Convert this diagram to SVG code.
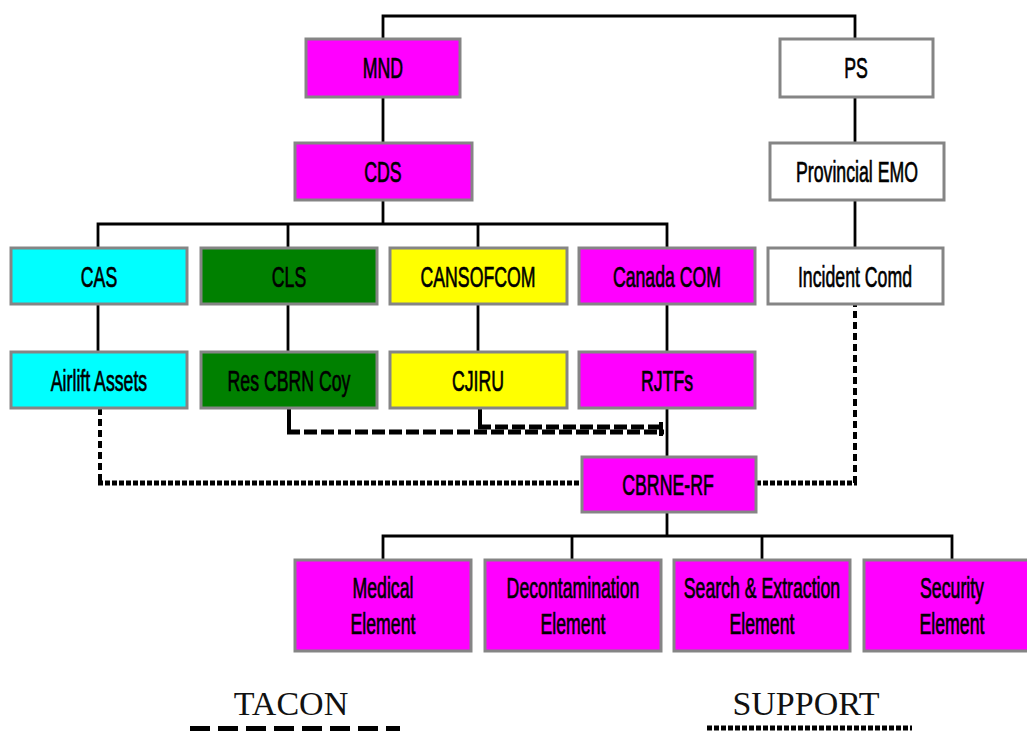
<svg xmlns="http://www.w3.org/2000/svg" width="1027" height="731" viewBox="0 0 1027 731">
<style>
.box{stroke:#858585;stroke-width:3}
.mag{fill:#ff00ff}.cy{fill:#00ffff}.gr{fill:#008000}.ye{fill:#ffff00}.wh{fill:#ffffff}
.t{font-family:"Liberation Sans",Arial,sans-serif;font-size:30px;fill:#000;stroke:#000;stroke-width:0.7;text-anchor:middle}
.lg{font-family:"Liberation Serif","Times New Roman",serif;font-size:34px;fill:#111;text-anchor:middle}
.solid{fill:none;stroke:#000;stroke-width:2.8}
.tacon{fill:none;stroke:#000;stroke-width:5;stroke-dasharray:13 4}
.tv{fill:none;stroke:#000;stroke-width:4}
.sup{fill:none;stroke:#000;stroke-width:5;stroke-dasharray:5 2}
.supv{fill:none;stroke:#000;stroke-width:4;stroke-dasharray:7 4}
</style>
<rect width="1027" height="731" fill="#ffffff"/>
<g id="connectors">
<path class="solid" d="M383,39 V16 H855 V39"/>
<path class="solid" d="M383,97 V143"/>
<path class="solid" d="M855,97 V143"/>
<path class="solid" d="M855,200 V248"/>
<path class="solid" d="M383,200 V224"/>
<path class="solid" d="M98,248 V224 H667 V248 M288,224 V248 M478,224 V248"/>
<path class="solid" d="M98,304 V352 M288,304 V352 M478,304 V352 M667,304 V352"/>
<path class="solid" d="M667,408 V457"/>
<path class="solid" d="M667,512 V536 M383,560 V536 H952 V560 M572,536 V560 M762,536 V560"/>
<path class="tv" d="M289,408 V434"/>
<path class="tacon" d="M287,432 H664"/>
<path class="tv" d="M480,408 V429"/>
<path class="tacon" d="M478,427 H664"/>
<path class="tv" d="M661,422 V436"/>
<path class="supv" d="M100,408 V483"/>
<path class="sup" d="M98,483 H582"/>
<path class="sup" d="M756,483 H857"/>
<path class="supv" d="M855,483 V304"/>
</g>
<g id="MND"><rect class="box mag" x="306" y="39" width="154" height="58"/><text class="t" transform="translate(383 78) scale(0.59 1)">MND</text></g>
<g id="PS"><rect class="box wh" x="780" y="39" width="153" height="58"/><text class="t" transform="translate(856 78) scale(0.59 1)">PS</text></g>
<g id="CDS"><rect class="box mag" x="295" y="143" width="177" height="57"/><text class="t" transform="translate(383 182) scale(0.59 1)">CDS</text></g>
<g id="ProvincialEMO"><rect class="box wh" x="770" y="143" width="174" height="57"/><text class="t" transform="translate(857 182) scale(0.59 1)">Provincial EMO</text></g>
<g id="CAS"><rect class="box cy" x="11" y="248" width="176" height="56"/><text class="t" transform="translate(99 287) scale(0.59 1)">CAS</text></g>
<g id="CLS"><rect class="box gr" x="201" y="248" width="176" height="56"/><text class="t" transform="translate(289 287) scale(0.59 1)">CLS</text></g>
<g id="CANSOFCOM"><rect class="box ye" x="390" y="248" width="177" height="56"/><text class="t" transform="translate(478 287) scale(0.59 1)">CANSOFCOM</text></g>
<g id="CanadaCOM"><rect class="box mag" x="579" y="248" width="176" height="56"/><text class="t" transform="translate(667 287) scale(0.59 1)">Canada COM</text></g>
<g id="IncidentComd"><rect class="box wh" x="768" y="248" width="175" height="56"/><text class="t" transform="translate(855 287) scale(0.59 1)">Incident Comd</text></g>
<g id="AirliftAssets"><rect class="box cy" x="11" y="352" width="176" height="56"/><text class="t" transform="translate(99 391) scale(0.59 1)">Airlift Assets</text></g>
<g id="ResCBRNCoy"><rect class="box gr" x="201" y="352" width="176" height="56"/><text class="t" transform="translate(289 391) scale(0.59 1)">Res CBRN Coy</text></g>
<g id="CJIRU"><rect class="box ye" x="390" y="352" width="177" height="56"/><text class="t" transform="translate(478 391) scale(0.59 1)">CJIRU</text></g>
<g id="RJTFs"><rect class="box mag" x="579" y="352" width="176" height="56"/><text class="t" transform="translate(667 391) scale(0.59 1)">RJTFs</text></g>
<g id="CBRNE-RF"><rect class="box mag" x="582" y="457" width="174" height="55"/><text class="t" transform="translate(668 495) scale(0.59 1)">CBRNE-RF</text></g>
<g id="Medical"><rect class="box mag" x="295" y="560" width="176" height="91"/><text class="t" transform="translate(383 598) scale(0.59 1)">Medical</text><text class="t" transform="translate(383 634) scale(0.59 1)">Element</text></g>
<g id="Decontamination"><rect class="box mag" x="485" y="560" width="176" height="91"/><text class="t" transform="translate(573 598) scale(0.59 1)">Decontamination</text><text class="t" transform="translate(573 634) scale(0.59 1)">Element</text></g>
<g id="SearchExtraction"><rect class="box mag" x="674" y="560" width="176" height="91"/><text class="t" transform="translate(762 598) scale(0.59 1)">Search &amp; Extraction</text><text class="t" transform="translate(762 634) scale(0.59 1)">Element</text></g>
<g id="Security"><rect class="box mag" x="864" y="560" width="176" height="91"/><text class="t" transform="translate(952 598) scale(0.59 1)">Security</text><text class="t" transform="translate(952 634) scale(0.59 1)">Element</text></g>
<g id="legend">
<text class="lg" x="291" y="715">TACON</text>
<path d="M190,729 H400" fill="none" stroke="#000" stroke-width="6" stroke-dasharray="20 8"/>
<text class="lg" x="806" y="715">SUPPORT</text>
<path d="M707,728 H912" fill="none" stroke="#000" stroke-width="5" stroke-dasharray="5 2"/>
</g>
</svg>
